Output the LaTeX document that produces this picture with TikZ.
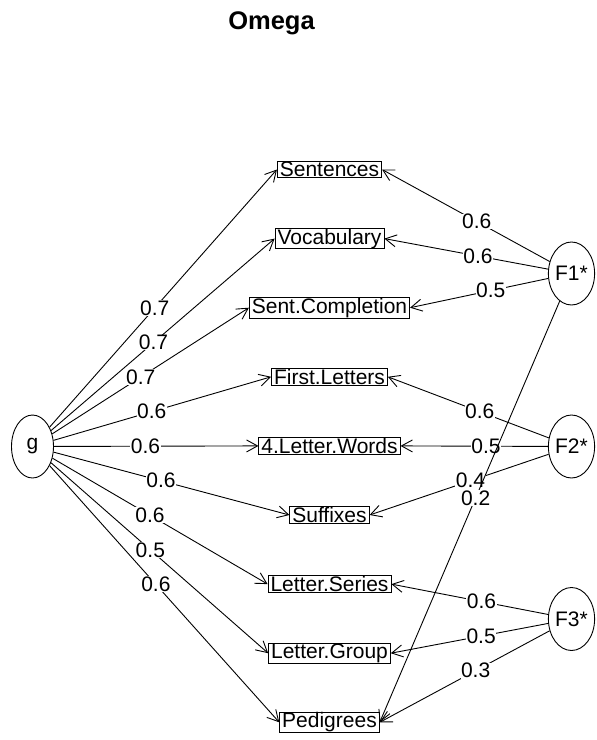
\documentclass[tikz,border=0pt]{standalone}
\usepackage{fontspec}
\setmainfont{Liberation Sans}
\usetikzlibrary{shapes.geometric,arrows.meta,calc}

\begin{document}
\begin{tikzpicture}[x=1pt,y=-1pt,line width=0.9pt,
        >={Straight Barb[length=11pt,width=12pt]},
        every node/.style={font=\fontsize{21}{25}\selectfont},
        var/.style={draw,rectangle,line width=0.9pt,inner xsep=2.5pt,inner ysep=0.5pt},
        fac/.style={draw,ellipse,inner sep=0pt,minimum width=42pt,minimum height=63pt},
        load/.style={fill=white,inner sep=0.5pt}]
    \useasboundingbox (0,0) rectangle (597,740);
    \node (title) at (271.5,23) {\fontsize{25.5}{30}\selectfont\bfseries Omega};
    % observed variables
    \node (sent)     [var] at (329.5,169.5) {Sentences};
    \node (vocab)    [var] at (329.5,238.6) {Vocabulary};
    \node (sentcomp) [var] at (329.5,307.7) {Sent.Completion};
    \node (firstlet) [var] at (329.5,376.8) {First.Letters};
    \node (fourlet)  [var] at (329.5,445.9) {4.Letter.Words};
    \node (suff)     [var] at (329.5,515.0) {Suffixes};
    \node (letser)   [var] at (329.5,584.1) {Letter.Series};
    \node (letgrp)   [var] at (329.5,653.2) {Letter.Group};
    \node (pedi)     [var] at (329.5,722.3) {Pedigrees};
    % factors
    \node (g)  [fac] at (32.5,446.5) {g};
    \node (F1) [fac] at (571.5,273.5) {F1*};
    \node (F2) [fac] at (571.5,446.5) {F2*};
    \node (F3) [fac] at (571.5,619) {F3*};
    % general factor
    \draw[->] (g) -- (sent.west);
    \node (gl1) [load] at ($(g.center)!0.5!(sent.west)$) {0.7};
    \draw[->] (g) -- (vocab.west);
    \node (gl2) [load] at ($(g.center)!0.5!(vocab.west)$) {0.7};
    \draw[->] (g) -- (sentcomp.west);
    \node (gl3) [load] at ($(g.center)!0.5!(sentcomp.west)$) {0.7};
    \draw[->] (g) -- (firstlet.west);
    \node (gl4) [load] at ($(g.center)!0.5!(firstlet.west)$) {0.6};
    \draw[->] (g) -- (fourlet.west);
    \node (gl5) [load] at ($(g.center)!0.5!(fourlet.west)$) {0.6};
    \draw[->] (g) -- (suff.west);
    \node (gl6) [load] at ($(g.center)!0.5!(suff.west)$) {0.6};
    \draw[->] (g) -- (letser.west);
    \node (gl7) [load] at ($(g.center)!0.5!(letser.west)$) {0.6};
    \draw[->] (g) -- (letgrp.west);
    \node (gl8) [load] at ($(g.center)!0.5!(letgrp.west)$) {0.5};
    \draw[->] (g) -- (pedi.west);
    \node (gl9) [load] at ($(g.center)!0.5!(pedi.west)$) {0.6};
    % group factors
    \draw[->] (F1) -- (sent.east);
    \node (fl1) [load] at ($(F1.center)!0.5!(sent.east)$) {0.6};
    \draw[->] (F1) -- (vocab.east);
    \node (fl2) [load] at ($(F1.center)!0.5!(vocab.east)$) {0.6};
    \draw[->] (F1) -- (sentcomp.east);
    \node (fl3) [load] at ($(F1.center)!0.5!(sentcomp.east)$) {0.5};
    \draw[->] (F2) -- (firstlet.east);
    \node (fl4) [load] at ($(F2.center)!0.5!(firstlet.east)$) {0.6};
    \draw[->] (F2) -- (fourlet.east);
    \node (fl5) [load] at ($(F2.center)!0.5!(fourlet.east)$) {0.5};
    \draw[->] (F2) -- (suff.east);
    \node (fl6) [load] at ($(F2.center)!0.5!(suff.east)$) {0.4};
    \draw[->] (F3) -- (letser.east);
    \node (fl7) [load] at ($(F3.center)!0.5!(letser.east)$) {0.6};
    \draw[->] (F3) -- (letgrp.east);
    \node (fl8) [load] at ($(F3.center)!0.5!(letgrp.east)$) {0.5};
    \draw[->] (F3) -- (pedi.east);
    \node (fl9) [load] at ($(F3.center)!0.5!(pedi.east)$) {0.3};
    \draw[->] (F1) -- (pedi.east);
    \node (fl10) [load] at ($(F1.center)!0.5!(pedi.east)$) {0.2};
\end{tikzpicture}
\end{document}
